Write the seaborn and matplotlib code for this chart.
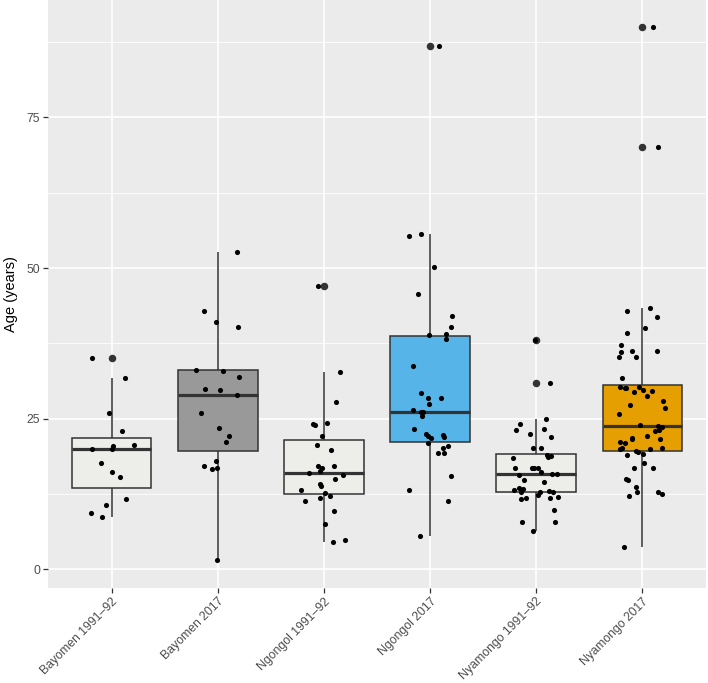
import matplotlib
matplotlib.use("Agg")
import matplotlib.pyplot as plt
import seaborn as sns
import pandas as pd
import numpy as np

# group labels and box fills
groups = ["Bayomen 1991–92", "Bayomen 2017", "Ngongol 1991–92",
          "Ngongol 2017", "Nyamongo 1991–92", "Nyamongo 2017"]
fills = ["#EDEDEA", "#999999", "#EDEDEA", "#56B4E9", "#EDEDEA", "#E69F00"]

# ages, one list per group
bayomen_91 = [35.0, 31.8, 26.0, 23.0, 20.7, 20.5, 20.0, 20.0, 17.6, 16.1,
              15.4, 11.7, 10.6, 9.3, 8.7]
bayomen_17 = [52.6, 42.9, 41.0, 40.2, 33.1, 33.0, 32.0, 30.0, 29.7, 29.0,
              25.9, 23.5, 22.2, 21.2, 18.0, 17.2, 16.9, 16.7, 1.6]
ngongol_91 = [47.0, 32.8, 27.7, 24.0, 24.3, 24.2, 22.2, 20.6, 19.8, 17.1,
              16.8, 17.1, 16.3, 15.7, 16.0, 15.0, 14.1, 13.9, 12.2, 12.7,
              11.9, 13.1, 11.3, 9.7, 7.6, 4.6, 4.8]
ngongol_17 = [86.9, 55.3, 55.7, 50.1, 45.7, 42.1, 40.3, 39.0, 38.9, 38.3,
              33.8, 29.3, 28.4, 28.4, 27.4, 26.4, 26.1, 25.4, 26.1, 23.3,
              22.4, 22.2, 22.3, 22.0, 21.8, 21.0, 20.1, 20.4, 19.3, 19.3,
              15.5, 13.1, 11.3, 5.6]
nyamongo_91 = [38.0, 31.0, 24.9, 24.1, 23.3, 23.2, 22.5, 22.0, 20.1, 20.1,
               18.9, 18.8, 18.7, 18.4, 16.9, 16.9, 16.9, 16.9, 16.2, 15.9,
               15.8, 15.6, 14.9, 14.5, 13.5, 13.3, 12.9, 12.8, 13.0, 12.8,
               13.2, 12.3, 11.9, 12.0, 11.8, 11.6, 9.8, 7.9, 7.8, 6.3]
nyamongo_17 = [90.0, 70.1, 42.9, 43.3, 41.9, 40.1, 39.2, 37.2, 36.2, 36.2,
               36.1, 35.2, 35.2, 31.8, 30.1, 30.2, 29.7, 29.6, 30.3, 30.1,
               29.4, 28.7, 28.0, 26.8, 27.3, 25.7, 23.8, 23.7, 23.9, 22.9,
               23.1, 22.2, 21.7, 21.1, 21.6, 21.8, 20.9, 20.1, 19.9, 20.0,
               20.2, 19.6, 19.5, 18.9, 19.2, 17.7, 16.8, 16.8, 15.0, 14.8,
               13.6, 12.8, 12.2, 12.5, 12.8, 3.7]

ages = [bayomen_91, bayomen_17, ngongol_91, ngongol_17, nyamongo_91, nyamongo_17]
df = pd.DataFrame({
    "group": [g for g, a in zip(groups, ages) for _ in a],
    "age": [v for a in ages for v in a],
})

sns.set_theme(style="darkgrid", rc={
    "axes.facecolor": "#EBEBEB",
    "grid.color": "white",
})
plt.rcParams["font.family"] = ["Liberation Sans", "DejaVu Sans"]

fig = plt.figure(figsize=(7.08, 6.83), dpi=100)
ax = fig.add_axes([48 / 708, 95 / 683, 658 / 708, 588 / 683])

sns.boxplot(data=df, x="group", y="age", hue="group", order=groups,
            hue_order=groups, palette=fills, saturation=1, width=0.75,
            linecolor="#333333", linewidth=1.1, showcaps=False,
            medianprops=dict(linewidth=2.3, color="#333333"),
            flierprops=dict(marker="o", markerfacecolor="#333333",
                            markeredgecolor="#333333", markersize=4.4),
            legend=False, ax=ax)

np.random.seed(7)
sns.stripplot(data=df, x="group", y="age", order=groups, color="black",
              jitter=0.22, size=3.7, linewidth=0, zorder=4, ax=ax)

ax.set_ylim(-3.1, 94.5)
ax.set_xlim(-0.6, 5.6)
ax.set_yticks([0, 25, 50, 75])
ax.set_yticks([12.5, 37.5, 62.5, 87.5], minor=True)
ax.grid(which="major", color="white", linewidth=1.2)
ax.grid(which="minor", axis="y", color="white", linewidth=0.6)
ax.set_axisbelow(True)
for s in ax.spines.values():
    s.set_visible(False)

ax.tick_params(axis="both", which="major", length=3.5, width=0.9,
               color="#333333", labelcolor="#4D4D4D", labelsize=8.8,
               bottom=True, left=True, pad=2)
ax.tick_params(axis="y", which="minor", length=0)
ax.set_xticks(range(len(groups)))
ax.set_xticklabels(groups, rotation=45, ha="right", va="top",
                   rotation_mode="anchor")
ax.set_xlabel("")
ax.set_ylabel("Age (years)", fontsize=10.5, color="black", labelpad=6)

fig.savefig("out.png", dpi=100)
